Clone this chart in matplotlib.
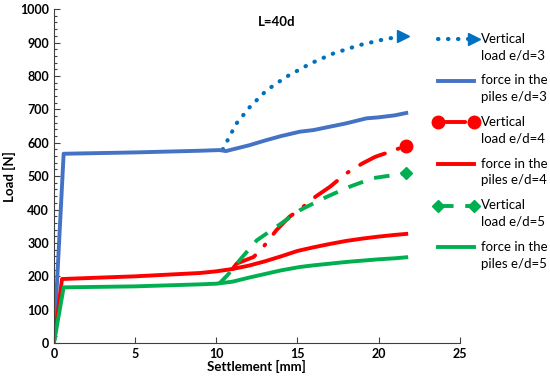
import numpy as np
import matplotlib
matplotlib.use("Agg")
import matplotlib.pyplot as plt
import matplotlib.transforms as mtransforms

plt.rcParams['font.family'] = ['Lato', 'DejaVu Sans']

# datos leidos de la figura
# fuerza en los pilotes e/d=3
s_f3 = [0, 0.6, 5, 9, 10.2, 10.6, 11.0, 12.0, 13.1, 14.0, 15.15, 16.0, 17.2, 18.0, 19.25, 20.0, 21.0, 21.7]
f_f3 = [0, 567, 571, 576, 578, 575, 580, 592, 608, 620, 633, 638, 650, 658, 673, 676, 682, 689]

# carga vertical e/d=3
s_v3 = [10.4, 10.8, 11.25, 12.07, 13.1, 14.3, 15.8, 17.2, 18.8, 20.1, 21.5]
f_v3 = [580, 617, 658, 707, 757, 797, 837, 867, 892, 907, 920]

# fuerza en los pilotes e/d=4
s_f4 = [0, 0.5, 5, 9, 10, 11, 12, 13, 14, 14.5, 15, 16, 17, 18, 19, 20, 21, 21.7]
f_f4 = [0, 192, 200, 210, 215, 222, 232, 245, 260, 268, 276, 287, 297, 306, 313, 319, 324, 327]

# carga vertical e/d=4
s_v4 = [11.0, 11.25, 12.3, 12.9, 13.7, 14.5, 15.35, 16.1, 17.0, 18.0, 19.0, 19.8, 20.7, 21.7]
f_v4 = [222, 238, 258, 288, 338, 378, 408, 438, 468, 508, 538, 558, 573, 591]

# fuerza en los pilotes e/d=5
s_f5 = [0, 0.6, 5, 9, 10, 11, 12, 13, 14, 15.15, 16, 17, 18, 19, 20, 21, 21.7]
f_f5 = [0, 167, 170, 176, 178, 184, 196, 207, 218, 228, 233, 238, 243, 247, 251, 254, 257]

# carga vertical e/d=5
s_v5 = [10.2, 10.7, 11.45, 12.5, 13.7, 15.15, 16.8, 18.2, 19.65, 20.9, 21.7]
f_v5 = [179, 204, 249, 308, 348, 398, 438, 468, 494, 503, 510]
##########################################

fig = plt.figure(figsize=(5.5, 3.8), dpi=100)
ax = fig.add_axes([0.098, 0.097, 0.738, 0.879])

ax.plot(s_v3, f_v3, color='#0070C0', lw=3, ls=(0, (0.1, 2.3)), dash_capstyle='round',
        marker='>', markersize=8, markevery=[-1], label='Vertical\nload e/d=3')
ax.plot(s_f3, f_f3, color='#4472C4', lw=2.8, label='force in the\npiles e/d=3')
ax.plot(s_v4, f_v4, color='#FF0000', lw=2.8, ls=(0, (7, 3.5, 0.3, 3.5)), dash_capstyle='round',
        marker='o', markersize=9, markevery=[-1], label='Vertical\nload e/d=4')
ax.plot(s_f4, f_f4, color='#FF0000', lw=2.8, label='force in the\npiles e/d=4')
ax.plot(s_v5, f_v5, color='#00B050', lw=2.8, ls=(0, (4, 3)),
        marker='D', markersize=6, markevery=[-1], label='Vertical\nload e/d=5')
ax.plot(s_f5, f_f5, color='#00B050', lw=2.8, label='force in the\npiles e/d=5')

ax.set_xlim(0, 25)
ax.set_ylim(0, 1000)
ax.set_xticks([0, 5, 10, 15, 20, 25])
ax.set_yticks(np.arange(0, 1001, 100))
ax.set_yticks(np.arange(0, 1001, 20), minor=True)
ax.tick_params(axis='both', direction='in', labelsize=9, length=4, width=0.8, colors='#404040',
               labelcolor='black')
ax.tick_params(axis='y', which='minor', direction='in', length=2.5, width=0.8, colors='#404040')
for lab in ax.get_xticklabels() + ax.get_yticklabels():
    lab.set_fontweight('bold')
ax.spines['top'].set_visible(False)
ax.spines['right'].set_visible(False)
ax.spines['left'].set_color('#404040')
ax.spines['bottom'].set_color('#404040')

ax.set_xlabel('Settlement [mm]', fontweight='bold', fontsize=9.5, labelpad=0)
ax.set_ylabel('Load [N]', fontweight='bold', fontsize=9.5, labelpad=3)
ax.text(13.7, 962, 'L=40d', fontweight='bold', fontsize=9.5, ha='center', va='center')

leg = fig.legend(loc='upper left', bbox_to_anchor=(0.79, 0.914), frameon=False,
                 fontsize=9.5, numpoints=2, handlelength=3.3, handletextpad=0.25,
                 labelspacing=1.0, borderaxespad=0, borderpad=0)
for t in leg.get_texts():
    t.set_linespacing(1.45)
hs = leg.legend_handles
hs[0].set_markevery([1])
for h in [hs[2], hs[4]]:
    h.set_markevery(None)
# mover los simbolos a la altura de la primera linea del texto
up = mtransforms.ScaledTranslation(0, 8.5 / 100, fig.dpi_scale_trans)
for h in hs:
    h.set_transform(h.get_transform() + up)

fig.savefig('out.png', dpi=100)
